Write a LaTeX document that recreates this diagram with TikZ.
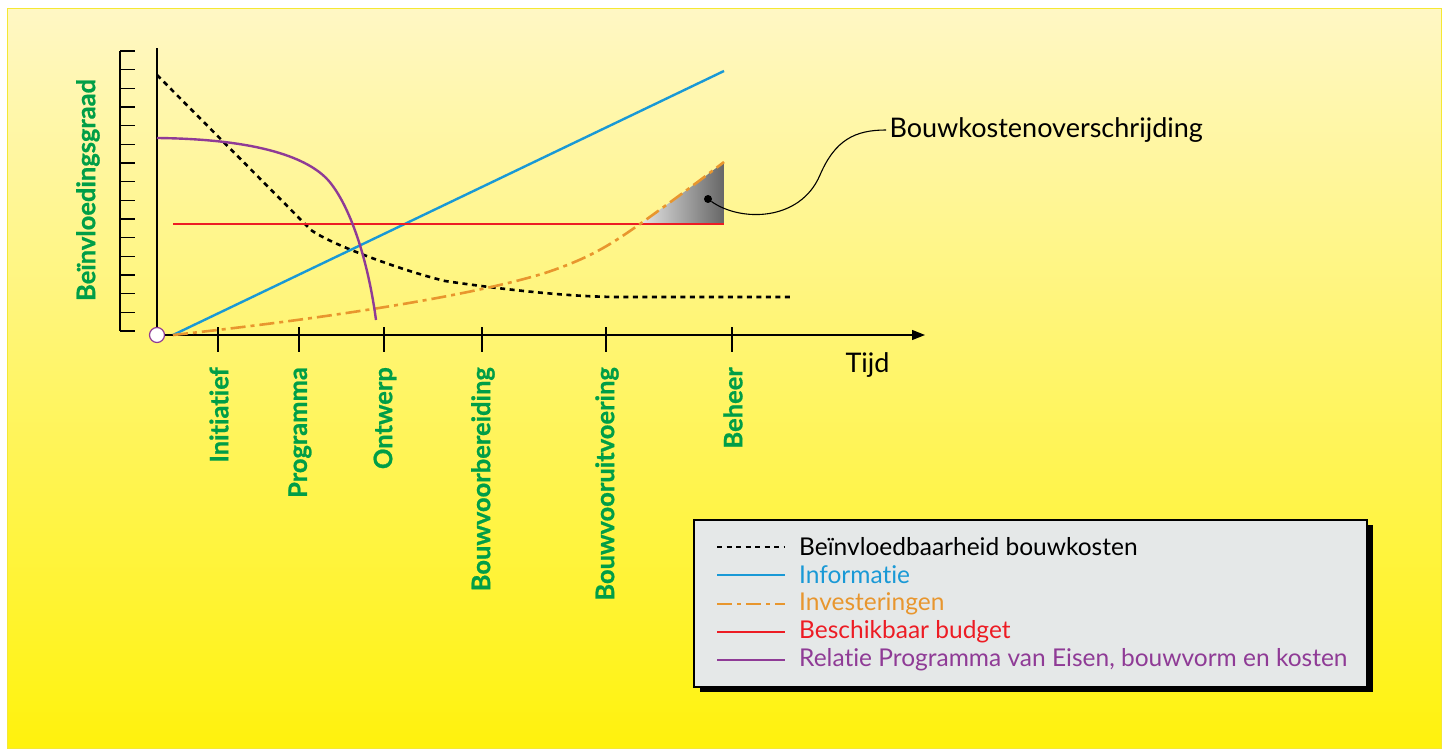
\documentclass[tikz,border=0pt]{standalone}
\usepackage{fontspec}
\setmainfont{Lato}[Ligatures=NoCommon]
\usetikzlibrary{arrows.meta}
\definecolor{phase_green}{rgb} {0.00,0.62,0.28}
\definecolor{info_blue}{rgb}   {0.10,0.60,0.84}
\definecolor{invest_orange}{rgb}{0.91,0.59,0.18}
\definecolor{budget_red}{rgb}  {0.93,0.11,0.14}
\definecolor{pve_purple}{rgb}  {0.56,0.23,0.59}
\definecolor{legend_gray}{rgb} {0.90,0.91,0.91}
\definecolor{bg_top}{rgb}      {1.00,0.97,0.77}
\definecolor{bg_bottom}{rgb}   {1.00,0.95,0.05}
\definecolor{bg_border}{rgb}   {0.96,0.91,0.20}

\begin{document}
\begin{tikzpicture}[x=1pt,y=-1pt,
    every node/.style={font=\fontsize{24.5}{28}\selectfont},
    phase/.style={rotate=90,anchor=east,text=phase_green,
      font=\fontsize{25.5}{28}\selectfont\bfseries\addfontfeature{FakeBold=0.8},
      inner sep=0pt},
    invloed/.style={line width=2.6pt,dash pattern=on 5pt off 4.5pt},
    info/.style={info_blue,line width=2.4pt},
    invest/.style={invest_orange,line width=2.6pt,
      dash pattern=on 15pt off 5pt on 4pt off 5pt},
    budget/.style={budget_red,line width=2.4pt},
    pve/.style={pve_purple,line width=2.4pt},
    axisline/.style={line width=1.3pt},
  ]
  \useasboundingbox (0,0) rectangle (1448,751);
  % background
  \shade[top color=bg_top,bottom color=bg_bottom] (7,9) rectangle (1441,748);
  \draw[bg_border,line width=1pt] (7,9) rectangle (1441,748);

  % ruler
  \draw[axisline] (120,51) -- (120,331);
  \foreach \i in {0,...,15}
    \draw[axisline] (120,51+\i*18.667) -- (135,51+\i*18.667);
  \node[phase,anchor=center] (ylabel) at (88,190) {Beïnvloedingsgraad};

  % axes
  \coordinate (origin) at (157,335);
  \coordinate (ytop) at (157,48);
  \coordinate (xend) at (925,335);
  \draw[axisline] (origin) -- (ytop);
  \draw[axisline,-{Triangle[length=13pt,width=10pt]}] (origin) -- (xend);
  \node[anchor=base west,font=\fontsize{27}{30}\selectfont] (tijd) at (842,372) {Tijd};

  % phases
  \foreach \x/\name in {218/Initiatief,299/Programma,384/Ontwerp,
      482/Bouwvoorbereiding,606/Bouwvooruitvoering,732/Beheer}{
    \draw[axisline] (\x,327) -- (\x,352);
    \node[phase] (ph-\name) at (\x+1,367) {\name};
  }

  % overshoot area
  \coordinate (cross) at (640,224);
  \coordinate (investend) at (724,162);
  \coordinate (budgetend) at (724,224);
  \shade[left color=gray!20,right color=black!60] (cross)
    .. controls (668,204) and (698,182) .. (investend) -- (budgetend) -- cycle;

  % curves
  \draw[invloed] (157,75) -- (311,230) .. controls (330,244) and (400,270) .. (445,281)
    .. controls (520,292) and (580,297) .. (620,297) -- (793,297);
  \draw[info] (173,335) -- (724,71);
  \draw[budget] (173,224) -- (budgetend);
  \draw[invest] (173,335) .. controls (330,318) and (470,296) .. (545,273)
    .. controls (590,258) and (610,245) .. (cross)
    .. controls (668,204) and (698,182) .. (investend);
  \draw[pve] (157,138) .. controls (250,139) and (305,155) .. (328,180)
    .. controls (350,205) and (368,260) .. (376,320);

  \node[circle,draw=pve_purple,fill=white,line width=1.2pt,minimum size=15pt,
    inner sep=0pt] (zero) at (origin) {};

  % label for the overshoot
  \node[circle,fill=black,minimum size=8pt,inner sep=0pt] (dot) at (708,199) {};
  \node[anchor=west,font=\fontsize{27}{30}\selectfont] (overschr) at (886,130)
    {Bouwkostenoverschrijding};
  \draw[line width=1.1pt] (dot) .. controls (740,222) and (800,222) .. (820,175)
    .. controls (835,140) and (855,130) .. (overschr.west);

  % legend
  \fill[black] (700,525) rectangle (1373,692);
  \draw[fill=legend_gray,line width=1.2pt] (694,520) rectangle (1367,687);
  \foreach \y/\st/\col/\txt [count=\k] in {
      547/invloed/black/Beïnvloedbaarheid bouwkosten,
      575/info/info_blue/Informatie,
      604/invest/invest_orange/Investeringen,
      632/budget/budget_red/Beschikbaar budget,
      660/pve/pve_purple/{Relatie Programma van Eisen, bouwvorm en kosten}}{
    \coordinate (leg-a\k) at (717,\y);
    \coordinate (leg-b\k) at (785,\y);
    \draw[\st,line width=2pt] (leg-a\k) -- (leg-b\k);
    \node[anchor=west,text=\col,inner sep=0pt] (leg-t\k) at (799,\y) {\txt};
  }
\end{tikzpicture}
\end{document}
